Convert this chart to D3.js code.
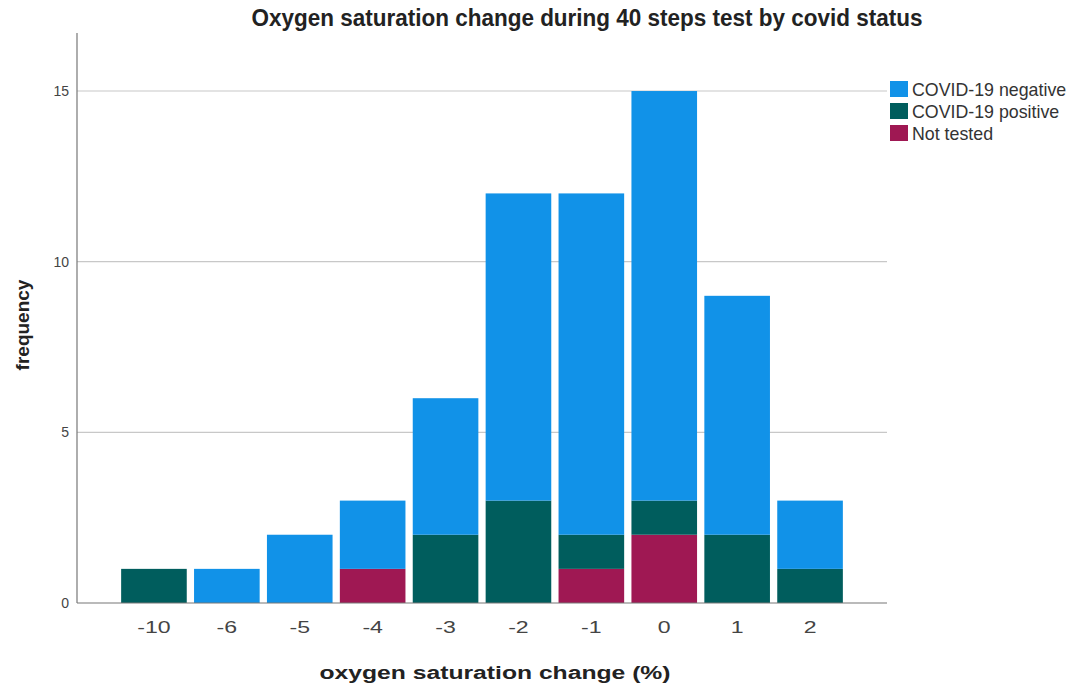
<!DOCTYPE html>
<html><head><meta charset="utf-8">
<script src="https://cdn.jsdelivr.net/npm/d3@7"></script>
<style>body{margin:0;background:#fff;}svg{display:block;}</style>
</head><body>
<svg id="c" width="1069" height="690"></svg>
<script>
const categories = ["-10","-6","-5","-4","-3","-2","-1","0","1","2"];
const notTested  = [0,0,0,1,0,0,1,2,0,0];
const positive   = [1,0,0,0,2,3,1,1,2,1];
const negative   = [0,1,2,2,4,9,10,12,7,2];
const seriesNames = ["COVID-19 negative","COVID-19 positive","Not tested"];
const yTicks = [0,5,10,15];
const colors = {"COVID-19 negative":"#1192e8","COVID-19 positive":"#005d5d","Not tested":"#9f1853"};

const FONT = "Liberation Sans, Arial, sans-serif";
const svg = d3.select("#c");
const x0 = 77, x1 = 887, yTop = 33, yBot = 603;
const x = d3.scaleBand().domain(categories).range([117.5, 846.5]).paddingInner(0.1).paddingOuter(0.05);
const y = d3.scaleLinear().domain([0, 16.7]).range([yBot, yTop]);

// gridlines
svg.append("g").selectAll("line").data(yTicks.filter(d=>d>0)).join("line")
  .attr("x1", x0).attr("x2", x1).attr("y1", d=>y(d)).attr("y2", d=>y(d))
  .attr("stroke", "#c8c8c8").attr("stroke-width", 1.2);

const rows = categories.map((c,i)=>({cat:c, "Not tested":notTested[i], "COVID-19 positive":positive[i], "COVID-19 negative":negative[i]}));
const stack = d3.stack().keys(["Not tested","COVID-19 positive","COVID-19 negative"])(rows);
svg.append("g").selectAll("g").data(stack).join("g").attr("fill", d=>colors[d.key])
  .selectAll("rect").data(d=>d.filter(v=>v[1]>v[0])).join("rect")
  .attr("x", d=>x(d.data.cat)).attr("width", x.bandwidth())
  .attr("y", d=>y(d[1])).attr("height", d=>y(d[0])-y(d[1]));

// axes
svg.append("line").attr("x1",x0).attr("x2",x0).attr("y1",yTop).attr("y2",yBot).attr("stroke","#777").attr("stroke-width",1.2);
svg.append("line").attr("x1",x0).attr("x2",x1).attr("y1",yBot).attr("y2",yBot).attr("stroke","#777").attr("stroke-width",1.2);

svg.append("g").selectAll("text").data(yTicks).join("text")
  .attr("x", 69).attr("y", d=>y(d)+5).attr("text-anchor","end")
  .attr("font-family",FONT).attr("font-size",14).attr("fill","#444")
  .text(d=>d);

svg.append("g").selectAll("text").data(categories).join("text")
  .attr("transform", d=>`translate(${x(d)+x.bandwidth()/2},633) scale(1.4,1)`)
  .attr("text-anchor","middle")
  .attr("font-family",FONT).attr("font-size",16.5).attr("fill","#444")
  .text(d=>d);

// titles
svg.append("text").attr("x",587).attr("y",26).attr("text-anchor","middle")
  .attr("textLength",671).attr("lengthAdjust","spacingAndGlyphs")
  .attr("font-family",FONT).attr("font-size",23).attr("font-weight","bold").attr("fill","#222")
  .text("Oxygen saturation change during 40 steps test by covid status");
svg.append("text").attr("transform","translate(495,679) scale(1.3,1)").attr("text-anchor","middle")
  .attr("font-family",FONT).attr("font-size",19).attr("font-weight","bold").attr("fill","#222")
  .text("oxygen saturation change (%)");
svg.append("text").attr("transform","translate(29,325) rotate(-90)").attr("text-anchor","middle")
  .attr("font-family",FONT).attr("font-size",19).attr("font-weight","bold").attr("fill","#222")
  .text("frequency");

// legend
const lg = svg.append("g").selectAll("g").data(seriesNames).join("g")
  .attr("transform",(d,i)=>`translate(890,${81+i*22})`);
lg.append("rect").attr("width",18).attr("height",16).attr("fill",d=>colors[d]);
lg.append("text").attr("x",22).attr("y",14.5).attr("font-family",FONT)
  .attr("font-size",17.8).attr("fill","#333").text(d=>d);
</script>
</body></html>
